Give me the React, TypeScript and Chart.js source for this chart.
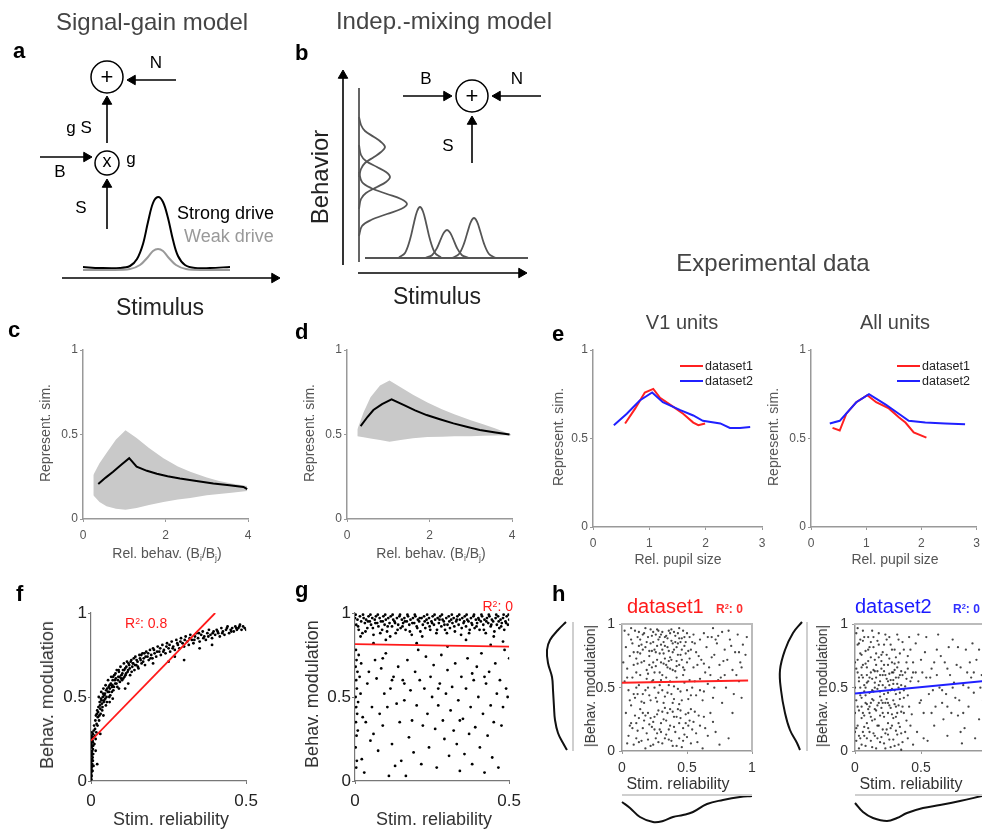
import React, { useEffect, useRef } from "react";
import { Chart, registerables } from "chart.js";

Chart.register(...registerables);
const FONT = "'Liberation Sans', Arial, Helvetica, sans-serif";
Chart.defaults.font.family = FONT;

// ================= DATA =================
// --- diagram a (page pixel coordinates) ---
const strongDriveX = [83, 100, 120, 130, 137, 143, 148, 153, 158, 163, 168, 173, 178, 185, 195, 210, 230];
const strongDriveY = [267, 268, 268, 266, 259, 244, 222, 203, 197, 202, 218, 240, 256, 265, 268, 268, 267];
const weakDriveX = [83, 110, 130, 140, 148, 153, 158, 163, 168, 176, 186, 205, 230];
const weakDriveY = [270, 270, 269, 265, 257, 251, 249, 251, 257, 265, 269, 270, 270];
const arrowsA = [
  [62, 278, 280, 278],
  [176, 80, 127, 80],
  [107, 143, 107, 96],
  [40, 157, 92, 157],
  [107, 229, 107, 179],
];
const circlesA = [
  [107, 77, 16],
  [107, 163, 12],
];
// --- diagram b ---
const arrowsB = [
  [343, 265, 343, 70],
  [358, 273, 527, 273],
  [403, 96, 452, 96],
  [541, 96, 492, 96],
  [472, 163, 472, 116],
];
const circlesB = [[472, 96, 16]];
const behaviorBaseX = [359, 359];
const behaviorBaseY = [88, 262];
const vBump1X = [359, 361, 365, 374, 381, 385, 381, 374, 365, 361, 359];
const vBump1Y = [117, 125, 131, 137, 142, 147, 152, 157, 163, 169, 177];
const vBump2X = [359, 361, 366, 377, 386, 390, 386, 377, 366, 361, 359];
const vBump2Y = [145, 155, 161, 167, 172, 177, 182, 187, 193, 199, 209];
const vBump3X = [359, 362, 371, 387, 401, 407, 401, 387, 371, 362, 359];
const vBump3Y = [172, 182, 188, 194, 199, 204, 209, 214, 220, 226, 236];
const stimBaseX = [365, 528];
const stimBaseY = [258, 258];
const hBump1X = [399, 405, 410, 414, 417, 420, 423, 426, 430, 435, 441];
const hBump1Y = [257.4, 253, 239.6, 222.7, 211.5, 207, 211.5, 222.7, 239.6, 253, 257.4];
const hBump2X = [426, 432, 437, 441, 444, 447, 450, 453, 457, 462, 468];
const hBump2Y = [257.7, 255.2, 248, 238.6, 232.5, 230, 232.5, 238.6, 248, 255.2, 257.7];
const hBump3X = [453, 459, 464, 468, 471, 474, 477, 480, 484, 489, 495];
const hBump3Y = [257.6, 254, 243.6, 230.4, 221.6, 218, 221.6, 230.4, 243.6, 254, 257.6];

// --- panel c (signal-gain simulation) ---
const envX = [0.25, 0.4, 0.57, 0.8, 1.03, 1.3, 1.6, 1.95, 2.3, 2.6, 3.0, 3.3, 3.6, 3.98];
const cUpper = [0.26, 0.33, 0.39, 0.47, 0.525, 0.48, 0.42, 0.36, 0.31, 0.28, 0.245, 0.225, 0.21, 0.195];
const cLower = [0.14, 0.1, 0.075, 0.06, 0.055, 0.065, 0.083, 0.1, 0.115, 0.125, 0.14, 0.148, 0.155, 0.165];
const cMeanX = [0.37, 0.55, 0.73, 0.92, 1.12, 1.3, 1.55, 1.79, 2.05, 2.35, 2.75, 3.16, 3.55, 3.89, 3.98];
const cMeanY = [0.207, 0.245, 0.28, 0.32, 0.36, 0.31, 0.285, 0.268, 0.253, 0.24, 0.225, 0.21, 0.2, 0.19, 0.177];
// --- panel d (indep.-mixing simulation) ---
const dUpper = [0.53, 0.63, 0.72, 0.79, 0.82, 0.78, 0.735, 0.69, 0.65, 0.62, 0.585, 0.56, 0.535, 0.5];
const dLower = [0.49, 0.483, 0.477, 0.468, 0.457, 0.468, 0.478, 0.485, 0.487, 0.49, 0.49, 0.492, 0.494, 0.496];
const dMeanX = [0.33, 0.5, 0.64, 0.85, 1.08, 1.37, 1.65, 1.93, 2.25, 2.58, 2.9, 3.22, 3.6, 3.94];
const dMeanY = [0.55, 0.605, 0.645, 0.68, 0.708, 0.675, 0.643, 0.615, 0.59, 0.566, 0.546, 0.527, 0.512, 0.5];
const simXTicks = [0, 2, 4];
const unitYTicks = [0, 0.5, 1];

// --- panel e (experimental data) ---
const eV1RedX = [0.57, 0.75, 0.92, 1.07, 1.19, 1.42, 1.6, 1.78, 1.87, 1.99];
const eV1RedY = [0.585, 0.67, 0.76, 0.78, 0.73, 0.68, 0.64, 0.59, 0.575, 0.585];
const eV1BlueX = [0.37, 0.6, 0.83, 1.05, 1.24, 1.55, 1.78, 1.95, 2.26, 2.43, 2.61, 2.79];
const eV1BlueY = [0.575, 0.64, 0.715, 0.76, 0.705, 0.66, 0.63, 0.6, 0.585, 0.56, 0.56, 0.565];
const eAllRedX = [0.39, 0.52, 0.64, 0.82, 1.02, 1.18, 1.41, 1.59, 1.71, 1.86, 2.09];
const eAllRedY = [0.56, 0.545, 0.64, 0.705, 0.745, 0.705, 0.67, 0.62, 0.59, 0.535, 0.505];
const eAllBlueX = [0.34, 0.52, 0.82, 1.05, 1.36, 1.59, 1.77, 2.07, 2.43, 2.79];
const eAllBlueY = [0.585, 0.6, 0.705, 0.75, 0.69, 0.64, 0.6, 0.59, 0.585, 0.58];
const pupilXTicks = [0, 1, 2, 3];

// --- panel f (signal-gain: modulation vs reliability) ---
const fPoints = [
  [0, .02], [.001, .05], [.002, .08], [0, .11], [.003, .13], [.001, .16], [.004, .18], [.002, .2], [0, .22], [.005, .24], [.003, .26], [.006, .28],
  [.001, .07], [.004, .1], [.002, .15], [.006, .19], [.003, .23], [0, .04], [.005, .14], [.007, .21], [.008, .26], [.009, .3], [.01, .33], [.006, .12],
  [.011, .22], [.012, .27], [.014, .36], [.013, .31], [.015, .25], [.016, .39], [.018, .34], [.02, .42], [.017, .29], [.022, .38], [.024, .44], [.019, .4],
  [.026, .36], [.028, .47], [.03, .43], [.025, .5], [.032, .49], [.035, .46], [.033, .53], [.038, .5], [.04, .55], [.036, .42], [.042, .48], [.045, .52],
  [.047, .57], [.05, .5], [.052, .55], [.048, .45], [.055, .6], [.058, .53], [.06, .57], [.062, .51], [.065, .62], [.068, .56], [.07, .6], [.072, .54],
  [.075, .63], [.078, .58], [.08, .61], [.083, .66], [.085, .56], [.088, .62], [.09, .65], [.093, .59], [.095, .68], [.098, .63], [.1, .6], [.103, .66],
  [.106, .7], [.108, .62], [.11, .67], [.113, .64], [.116, .71], [.12, .66], [.123, .69], [.126, .63], [.13, .72], [.133, .68], [.136, .7], [.14, .66],
  [.143, .74], [.146, .69], [.15, .71], [.153, .67], [.156, .75], [.16, .72], [.163, .7], [.166, .76], [.17, .73], [.174, .69], [.178, .77], [.182, .74],
  [.186, .72], [.19, .78], [.194, .75], [.198, .73], [.2, .79], [.205, .76], [.21, .74], [.215, .8], [.22, .77], [.225, .75], [.23, .81], [.235, .78],
  [.24, .76], [.245, .82], [.25, .79], [.255, .77], [.26, .83], [.265, .8], [.27, .78], [.275, .84], [.28, .81], [.285, .79], [.29, .85], [.295, .82],
  [.3, .8], [.305, .86], [.31, .83], [.315, .81], [.32, .87], [.325, .84], [.33, .82], [.335, .86], [.34, .88], [.345, .85], [.35, .83], [.355, .87],
  [.36, .89], [.365, .86], [.37, .84], [.375, .88], [.38, .9], [.385, .87], [.39, .85], [.395, .89], [.4, .87], [.405, .9], [.41, .88], [.415, .86],
  [.42, .91], [.425, .89], [.43, .87], [.435, .9], [.44, .92], [.445, .88], [.45, .9], [.455, .91], [.46, .89], [.465, .92], [.47, .9], [.475, .91],
  [.48, .93], [.485, .9], [.49, .92], [.495, .91], [.5, .9], [.39, .81], [.35, .79], [.12, .58], [.2, .7], [.27, .74], [.09, .55], [.06, .47],
  [.04, .39], [.015, .18], [.008, .09], [.021, .33], [.023, .41], [.027, .39], [.029, .45], [.031, .4], [.034, .48], [.037, .44], [.039, .52], [.041, .47],
  [.043, .51], [.046, .49], [.049, .54], [.051, .47], [.054, .53], [.057, .56], [.059, .5], [.061, .55], [.064, .58], [.067, .53], [.069, .57], [.071, .62],
  [.074, .56], [.077, .6], [.079, .64], [.082, .58], [.087, .6], [.089, .66], [.092, .62], [.097, .61], [.101, .64], [.104, .61], [.107, .66], [.111, .63],
  [.114, .68], [.118, .65], [.121, .7], [.125, .67], [.128, .71], [.131, .65], [.135, .7], [.138, .73], [.142, .69], [.147, .72], [.151, .68], [.158, .73],
  [.162, .75], [.168, .71], [.172, .76], [.176, .74], [.184, .76], [.192, .73], [.203, .78], [.213, .77], [.223, .79], [.233, .77], [.243, .8], [.253, .81],
  [.263, .79], [.278, .82], [.288, .83], [.302, .84], [.318, .85], [.333, .84], [.348, .88], [.362, .85], [.378, .86], [.392, .88], [.408, .89], [.423, .88],
  [.438, .91], [.452, .89], [.468, .91], [.478, .92], [.001, .01], [.002, .03], [0, .06], [.003, .09], [.001, .12], [.002, .17], [.004, .21], [.001, .25],
  [.003, .29], [.005, .06], [.002, .27], [.006, .23], [.007, .16], [.3, .72], [.25, .71], [.11, .55], [.07, .49], [.03, .28], [.02, .1],
];
const fFitX = [0, 0.4];
const fFitY = [0.24, 1.0];
const relXTicks = [0, 0.5];

// --- panel g (indep.-mixing: modulation vs reliability) ---
const gBandPoints = [
  [0, .97], [.004, .93], [.008, .96], [.012, .9], [.016, .98], [.02, .95], [.024, .88], [.028, .97], [.032, .94], [.036, .96], [.04, .91], [.044, .98],
  [.048, .95], [.052, .93], [.056, .97], [.06, .87], [.064, .96], [.068, .98], [.072, .94], [.076, .92], [.08, .97], [.084, .95], [.088, .9], [.092, .98],
  [.096, .93], [.1, .96], [.104, .89], [.108, .97], [.112, .94], [.116, .98], [.12, .92], [.124, .96], [.128, .95], [.132, .88], [.136, .97], [.14, .93],
  [.144, .98], [.148, .91], [.152, .96], [.156, .94], [.16, .97], [.164, .9], [.168, .95], [.172, .98], [.176, .93], [.18, .96], [.184, .87], [.188, .97],
  [.192, .94], [.196, .98], [.2, .92], [.204, .96], [.208, .95], [.212, .89], [.216, .97], [.22, .93], [.224, .98], [.228, .91], [.232, .96], [.236, .94],
  [.24, .97], [.244, .9], [.248, .95], [.252, .98], [.256, .93], [.26, .96], [.264, .88], [.268, .97], [.272, .94], [.276, .98], [.28, .92], [.284, .96],
  [.288, .95], [.292, .9], [.296, .97], [.3, .93], [.304, .98], [.308, .91], [.312, .96], [.316, .94], [.32, .97], [.324, .89], [.328, .95], [.332, .98],
  [.336, .93], [.34, .96], [.344, .87], [.348, .97], [.352, .94], [.356, .98], [.36, .92], [.364, .96], [.368, .95], [.372, .9], [.376, .97], [.38, .93],
  [.384, .98], [.388, .91], [.392, .96], [.396, .94], [.4, .97], [.404, .9], [.408, .95], [.412, .98], [.416, .93], [.42, .96], [.424, .88], [.428, .97],
  [.432, .94], [.436, .98], [.44, .92], [.444, .96], [.448, .95], [.452, .89], [.456, .97], [.46, .93], [.464, .98], [.468, .91], [.472, .96], [.476, .94],
  [.48, .97], [.484, .9], [.488, .95], [.492, .98], [.496, .93], [.5, .96],
  [.002, .99], [.01, .92], [.018, .86], [.026, .99], [.034, .89], [.042, .95], [.05, .99], [.058, .91], [.066, .94], [.074, .99], [.082, .88], [.09, .95],
  [.098, .99], [.106, .92], [.114, .86], [.122, .99], [.13, .94], [.138, .9], [.146, .99], [.154, .92], [.162, .95], [.17, .99], [.178, .89], [.186, .94],
  [.194, .99], [.202, .91], [.21, .97], [.218, .86], [.226, .95], [.234, .99], [.242, .92], [.25, .94], [.258, .99], [.266, .9], [.274, .96], [.282, .99],
  [.29, .93], [.298, .88], [.306, .95], [.314, .99], [.322, .92], [.33, .96], [.338, .99], [.346, .91], [.354, .95], [.362, .99], [.37, .88], [.378, .94],
  [.386, .99], [.394, .92], [.402, .96], [.41, .99], [.418, .9], [.426, .95], [.434, .99], [.442, .93], [.45, .86], [.458, .99], [.466, .95], [.474, .92],
  [.482, .99], [.49, .94], [.498, .99],
];
const gSparsePoints = [
  [.003, .78], [.005, .72], [.002, .68], [.008, .65], [.004, .6], [.006, .55], [.002, .5], [.01, .47], [.004, .44], [.007, .4], [.003, .35], [.009, .3],
  [.005, .27], [.002, .2], [.006, .12], [.004, .08], [.012, .75], [.015, .62], [.02, .7], [.018, .52], [.025, .38], [.022, .13], [.03, .05], [.035, .35],
  [.04, .58], [.045, .65], [.05, .24], [.055, .44], [.06, .28], [.065, .72], [.07, .61], [.075, .18], [.08, .4], [.085, .67], [.09, .33], [.095, .52],
  [.1, .76], [.105, .44], [.11, .03], [.115, .55], [.12, .22], [.125, .62], [.13, .09], [.135, .46], [.14, .68], [.145, .35], [.15, .12], [.155, .6],
  [.16, .48], [.165, .03], [.17, .72], [.175, .26], [.18, .54], [.185, .36], [.19, .17], [.195, .65], [.2, .45], [.205, .78], [.21, .6], [.215, .1],
  [.22, .33], [.225, .55], [.23, .74], [.235, .4], [.24, .2], [.245, .62], [.25, .5], [.255, .69], [.26, .31], [.265, .08], [.27, .45], [.275, .58],
  [.28, .75], [.285, .36], [.29, .25], [.295, .52], [.3, .66], [.305, .15], [.31, .42], [.315, .56], [.32, .3], [.325, .7], [.33, .22], [.335, .48],
  [.34, .06], [.345, .62], [.35, .37], [.355, .16], [.36, .55], [.365, .73], [.37, .28], [.375, .44], [.38, .1], [.385, .6], [.39, .32], [.395, .68],
  [.4, .5], [.405, .2], [.41, .76], [.415, .4], [.42, .05], [.425, .58], [.43, .27], [.435, .65], [.44, .45], [.445, .14], [.45, .35], [.455, .7],
  [.46, .52], [.465, .08], [.47, .6], [.475, .33], [.48, .44], [.485, .78], [.49, .55], [.495, .5], [.5, .73], [.42, .62], [.38, .64], [.34, .36],
  [.27, .55], [.16, .58], [.12, .6], [.09, .73], [.06, .82], [.2, .82], [.3, .8], [.44, .81], [.48, .83], [.36, .84], [.1, .84],
];
const gFitX = [0, 0.5];
const gFitY = [0.815, 0.8];

// --- panel h (experimental: |modulation| vs reliability) ---
const h1Points = [
  [.05, .92], [.08, .85], [.1, .95], [.12, .78], [.14, .88], [.15, .7], [.17, .93], [.18, .82], [.2, .9], [.21, .75], [.22, .96], [.23, .66], [.24, .86],
  [.25, .8], [.26, .92], [.27, .72], [.28, .88], [.29, .62], [.3, .84], [.31, .94], [.32, .77], [.33, .9], [.34, .68], [.35, .82], [.36, .95], [.37, .74],
  [.38, .87], [.39, .64], [.4, .8], [.41, .91], [.42, .71], [.43, .85], [.44, .97], [.45, .76], [.46, .89], [.47, .66], [.48, .83], [.5, .93], [.52, .73],
  [.54, .86], [.06, .75], [.09, .68], [.11, .62], [.13, .94], [.16, .8], [.19, .64], [.22, .85], [.24, .7], [.26, .78], [.28, .95], [.3, .7], [.32, .86],
  [.34, .91], [.36, .79], [.38, .72], [.4, .94], [.42, .82], [.44, .68], [.46, .8], [.48, .9], [.5, .7], [.53, .8], [.55, .92], [.03, .82], [.04, .65],
  [.07, .97], [.18, .97], [.27, .83], [.33, .73], [.37, .93], [.43, .76], [.47, .95], [.21, .68], [.31, .8], [.39, .85], [.15, .84], [.25, .62], [.35, .66],
  [.29, .9], [.23, .79], [.41, .63], [.45, .86], [.49, .77], [.12, .9], [.02, .95], [.01, .7], [.57, .78], [.6, .88], [.58, .68],
  [.02, .55], [.05, .48], [.08, .58], [.1, .42], [.13, .52], [.16, .45], [.19, .57], [.22, .4], [.25, .5], [.28, .46], [.3, .56], [.33, .43], [.36, .52],
  [.39, .38], [.42, .58], [.45, .47], [.48, .54], [.51, .41], [.54, .5], [.57, .44], [.6, .57], [.63, .47], [.66, .53], [.7, .42], [.74, .56], [.07, .36],
  [.11, .5], [.17, .38], [.24, .56], [.31, .48], [.34, .58], [.38, .45], [.44, .37], [.47, .6], [.52, .56], [.27, .39], [.2, .5], [.14, .6], [.4, .51],
  [.62, .4], [.68, .6], [.8, .5], [.86, .45], [.9, .55], [.77, .38],
  [.03, .3], [.05, .12], [.07, .22], [.09, .05], [.1, .28], [.12, .16], [.14, .33], [.15, .08], [.17, .24], [.19, .14], [.2, .3], [.22, .04], [.23, .19],
  [.25, .27], [.26, .1], [.28, .32], [.29, .17], [.31, .06], [.32, .25], [.34, .13], [.35, .3], [.37, .2], [.38, .08], [.4, .27], [.41, .15], [.43, .33],
  [.44, .22], [.46, .03], [.47, .18], [.49, .29], [.5, .11], [.52, .24], [.54, .17], [.56, .31], [.58, .07], [.6, .2], [.63, .27], [.66, .12], [.7, .23],
  [.75, .05], [.08, .18], [.13, .26], [.18, .02], [.21, .21], [.27, .14], [.33, .34], [.36, .09], [.42, .04], [.48, .13], [.53, .33], [.11, .1], [.16, .3],
  [.24, .23], [.3, .15], [.39, .31], [.45, .26], [.51, .2], [.62, .02], [.82, .1], [.72, .15],
  [.61, .72], [.63, .93], [.65, .82], [.67, .66], [.69, .9], [.71, .76], [.73, .85], [.75, .68], [.77, .94], [.79, .8], [.81, .72], [.83, .88], [.85, .64],
  [.87, .78], [.89, .92], [.91, .7], [.93, .84], [.95, .76], [.64, .62], [.7, .97], [.76, .58], [.82, .95], [.88, .6], [.92, .66], [.74, .91],
  [.11, .73], [.13, .83], [.16, .92], [.19, .86], [.21, .79], [.23, .91], [.26, .67], [.27, .96], [.29, .77], [.3, .92], [.32, .69], [.33, .83], [.35, .89],
  [.36, .71], [.38, .96], [.39, .78], [.41, .86], [.42, .67], [.44, .89], [.46, .72], [.48, .64], [.49, .86], [.51, .79], [.52, .9], [.55, .66], [.56, .85],
  [.59, .75], [.2, .61], [.17, .71], [.14, .77], [.24, .94], [.31, .6], [.37, .65], [.43, .93], [.07, .88], [.09, .78], [.12, .69],
  [.12, .45], [.15, .39], [.18, .48], [.21, .44], [.23, .55], [.26, .42], [.29, .52], [.32, .38], [.35, .46], [.37, .55], [.4, .41], [.43, .49], [.46, .4],
  [.5, .48], [.53, .44], [.56, .55], [.09, .45], [.06, .4], [.04, .58], [.6, .48],
  [.11, .22], [.13, .07], [.16, .18], [.18, .28], [.2, .09], [.22, .26], [.24, .05], [.25, .17], [.27, .29], [.28, .07], [.3, .22], [.31, .31], [.33, .1],
  [.34, .24], [.36, .17], [.37, .33], [.39, .04], [.4, .19], [.42, .27], [.44, .1], [.45, .32], [.47, .08], [.49, .22], [.51, .3], [.53, .06], [.55, .23],
  [.57, .14], [.59, .28], [.64, .18], [.68, .3], [.06, .2], [.04, .06],
  [.63, .69], [.66, .9], [.69, .74], [.72, .88], [.78, .71], [.84, .83], [.9, .78], [.96, .9], [.71, .5], [.79, .6], [.85, .3], [.92, .42],
];
const h1FitX = [0, 0.97];
const h1FitY = [0.54, 0.557];
const h2Points = [
  [.01, .93], [.03, .85], [.05, .76], [.07, .9], [.09, .66], [.11, .82], [.13, .95], [.15, .72], [.17, .87], [.19, .6], [.21, .78], [.23, .92], [.25, .68],
  [.27, .84], [.29, .56], [.31, .74], [.33, .88], [.35, .63], [.37, .8], [.39, .7], [.41, .9], [.43, .58],
  [.02, .62], [.04, .5], [.06, .58], [.08, .44], [.1, .55], [.12, .62], [.14, .47], [.16, .58], [.18, .52], [.2, .65], [.22, .45], [.24, .57], [.26, .61],
  [.28, .49], [.3, .64], [.32, .53], [.34, .46], [.36, .6], [.38, .51], [.4, .44], [.42, .55], [.44, .62],
  [.01, .4], [.03, .32], [.05, .42], [.07, .28], [.09, .37], [.11, .3], [.13, .41], [.15, .25], [.17, .36], [.19, .43], [.21, .3], [.23, .38], [.25, .22],
  [.27, .34], [.29, .4], [.31, .27], [.33, .36], [.35, .31], [.37, .42], [.39, .24], [.41, .35], [.43, .29],
  [.02, .2], [.04, .1], [.06, .15], [.08, .04], [.1, .18], [.12, .08], [.14, .14], [.16, .02], [.18, .2], [.2, .11], [.22, .06], [.24, .17], [.26, .09],
  [.28, .2], [.3, .04], [.32, .13], [.34, .19], [.36, .07], [.38, .15], [.4, .1], [.42, .2], [.44, .05],
  [.02, .72], [.04, .88], [.06, .68], [.08, .79], [.1, .71], [.12, .86], [.14, .64], [.16, .77], [.18, .93], [.2, .71], [.22, .84], [.24, .76], [.26, .9],
  [.28, .7], [.3, .8], [.32, .66], [.34, .77], [.36, .86], [.38, .62], [.4, .75], [.42, .8], [.44, .7],
  [.03, .58], [.05, .66], [.07, .52], [.09, .6], [.11, .46], [.13, .57], [.15, .63], [.17, .49], [.19, .55], [.21, .6], [.23, .5], [.25, .46], [.27, .56],
  [.29, .62], [.31, .45], [.33, .58], [.35, .52], [.37, .48], [.39, .57],
  [.01, .08], [.03, .02], [.05, .26], [.07, .12], [.09, .22], [.11, .35], [.13, .24], [.15, .33], [.17, .1], [.19, .28], [.21, .38], [.23, .14], [.25, .3],
  [.27, .03], [.29, .26], [.31, .35], [.33, .22], [.35, .01], [.37, .3],
  [0, .5], [0, .3], [0, .7], [0, .15], [.02, .97], [.06, .95], [.1, .9], [.14, .82], [.18, .74], [.22, .68], [.26, .52], [.3, .48], [.2, .4], [.15, .5],
  [.25, .38], [.28, .62], [.12, .38], [.08, .5], [.05, .35], [.33, .7], [.36, .35], [.4, .65],
  [.46, .85], [.48, .55], [.5, .72], [.52, .3], [.54, .9], [.56, .45], [.58, .65], [.6, .2], [.62, .8], [.64, .5], [.66, .38], [.68, .7], [.7, .12],
  [.72, .6], [.74, .88], [.76, .42], [.78, .28], [.8, .66], [.82, .52], [.84, .8], [.86, .35], [.88, .58], [.9, .46], [.92, .72], [.94, .25], [.96, .6],
  [.47, .15], [.51, .62], [.55, .08], [.59, .48], [.63, .92], [.67, .25], [.71, .82], [.75, .54], [.79, .4], [.83, .18], [.87, .7], [.91, .1], [.95, .5],
  [.49, .38], [.53, .78], [.57, .58], [.61, .35], [.65, .75], [.69, .45], [.73, .3], [.77, .68], [.81, .06], [.85, .62], [.89, .85], [.97, .4],
  [.02, .84], [.04, .77], [.06, .87], [.08, .69], [.1, .8], [.12, .74], [.14, .9], [.16, .68], [.18, .84], [.2, .76], [.22, .63], [.24, .88], [.26, .73],
  [.28, .8], [.3, .69], [.32, .92], [.34, .6], [.01, .65], [.03, .55], [.05, .6], [.07, .47], [.09, .54], [.11, .58], [.13, .48], [.15, .54], [.17, .63],
  [.19, .47], [.21, .52], [.23, .6], [.25, .55], [.27, .48], [.29, .53], [.31, .58], [.33, .5],
  [.02, .35], [.04, .44], [.06, .3], [.08, .38], [.1, .33], [.12, .27], [.14, .4], [.16, .32], [.18, .38], [.2, .34], [.22, .27], [.24, .41], [.26, .36],
  [.28, .29], [.3, .37], [.32, .3], [.34, .41],
  [.01, .18], [.03, .12], [.05, .05], [.07, .19], [.09, .1], [.11, .15], [.13, .03], [.15, .12], [.17, .2], [.19, .07], [.21, .17], [.23, .02], [.25, .13],
  [.27, .18], [.29, .09], [.31, .16], [.33, .05], [.35, .14],
  [.46, .62], [.5, .4], [.54, .58], [.58, .3], [.62, .6], [.66, .48], [.7, .65], [.74, .5], [.78, .82], [.82, .3], [.86, .5], [.9, .62], [.94, .8],
  [.98, .55], [.48, .92], [.52, .1], [.6, .7], [.7, .35], [.8, .15],
];
const h2FitX = [0, 1];
const h2FitY = [0.455, 0.555];
const unitXTicks = [0, 0.5, 1];
// marginal density curves of panel h (page pixel coordinates)
const h1LeftMargX = [566, 558, 550, 547, 548, 552, 553, 554, 555, 558, 563, 567];
const h1LeftMargY = [622, 630, 640, 650, 663, 677, 690, 707, 720, 733, 743, 750];
const h2LeftMargX = [802, 793, 785, 780, 781, 785, 790, 797, 800];
const h2LeftMargY = [622, 633, 650, 670, 690, 713, 730, 743, 750];
const h1BottomMargX = [622, 630, 640, 653, 663, 673, 683, 693, 707, 723, 740, 752];
const h1BottomMargY = [802, 808, 817, 822, 821, 817, 815, 812, 804, 800, 797, 796];
const h2BottomMargX = [855, 863, 873, 887, 897, 907, 923, 940, 960, 982];
const h2BottomMargY = [803, 812, 818, 821, 818, 813, 808, 805, 801, 796];
const marginGuides = [
  [573, 622, 573, 751],
  [807, 622, 807, 751],
  [622, 795, 752, 795],
  [855, 795, 990, 795],
];

// ================= HELPERS =================
const pts = (xs: number[], ys: number[]) => xs.map((x, i) => ({ x, y: ys[i] }));
const pairs = (a: number[][]) => a.map(([x, y]) => ({ x, y }));

const lineDS = (data: any[], color: string, width: number, tension = 0, order = 0) => ({
  data, borderColor: color, borderWidth: width, pointRadius: 0, tension, fill: false, order,
});

const arrowDS = (a: number[], color = "#000", width = 1.6, r = 5.5) => {
  const [x0, y0, x1, y1] = a;
  const len = Math.hypot(x1 - x0, y1 - y0);
  const ux = (x1 - x0) / len, uy = (y1 - y0) / len;
  const rot = (Math.atan2(ux, -uy) * 180) / Math.PI;
  return {
    data: [{ x: x0, y: y0 }, { x: x1 - ux * r, y: y1 - uy * r }],
    borderColor: color, borderWidth: width, pointRadius: [0, r], pointStyle: "triangle",
    pointRotation: rot, pointBackgroundColor: color, pointBorderColor: color, pointBorderWidth: 1, fill: false,
  };
};

const circleDS = (cs: number[][]) => ({
  data: cs.map((c) => ({ x: c[0], y: c[1] })), showLine: false, pointRadius: cs.map((c) => c[2]),
  pointStyle: "circle", pointBackgroundColor: "rgba(255,255,255,0)", pointBorderColor: "#000", pointBorderWidth: 1.5,
});

const scatterDS = (a: number[][], color: string, r: number) => ({
  data: pairs(a), showLine: false, pointRadius: r, pointBackgroundColor: color, pointBorderWidth: 0, pointStyle: "circle", order: 2,
});

interface PanelSpec {
  L: number; T: number; R: number; B: number;
  xMin: number; xMax: number; xTicks: number[];
  yMin: number; yMax: number; yTicks: number[];
  ySize: number; xSize: number; padTop: number; padRight: number;
  fontSize: number; tickColor: string; lineColor: string; lineWidth: number;
  xPad: number; yPad: number; tickLen: number;
  box?: { color: string; width: number };
}

function buildPanel(p: PanelSpec, datasets: any[]) {
  const left = p.L - p.ySize;
  const top = p.T - p.padTop;
  const width = p.R + p.padRight - left;
  const height = p.B + p.xSize - top;
  const axis = (min: number, max: number, ticks: number[], isX: boolean) => ({
    type: "linear",
    position: isX ? "bottom" : "left",
    min, max,
    afterBuildTicks: (s: any) => { s.ticks = ticks.map((v) => ({ value: v })); },
    afterFit: (s: any) => { if (isX) s.height = p.xSize; else s.width = p.ySize; },
    ticks: {
      font: { size: p.fontSize, family: FONT }, color: p.tickColor, padding: isX ? p.xPad : p.yPad,
      maxRotation: 0, autoSkip: false, callback: (v: any) => String(v),
    },
    grid: { display: true, drawOnChartArea: false, drawTicks: true, tickLength: p.tickLen, color: p.lineColor, lineWidth: 1 },
    border: { display: true, color: p.lineColor, width: p.lineWidth },
  });
  const scales: any = { x: axis(p.xMin, p.xMax, p.xTicks, true), y: axis(p.yMin, p.yMax, p.yTicks, false) };
  if (p.box) {
    scales.x2 = {
      type: "linear", position: "top", display: true, min: p.xMin, max: p.xMax,
      afterFit: (s: any) => { s.height = 0; },
      ticks: { display: false }, grid: { display: false },
      border: { display: true, color: p.box.color, width: p.box.width },
    };
    scales.y2 = {
      type: "linear", position: "right", display: true, min: p.yMin, max: p.yMax,
      afterFit: (s: any) => { s.width = 0; },
      ticks: { display: false }, grid: { display: false },
      border: { display: true, color: p.box.color, width: p.box.width },
    };
  }
  const config: any = {
    type: "line",
    data: { datasets },
    options: {
      animation: false, responsive: false, events: [],
      layout: { autoPadding: false, padding: { left: 0, top: p.padTop, right: p.padRight, bottom: 0 } },
      plugins: { legend: { display: false }, tooltip: { enabled: false } },
      scales,
    },
  };
  return { left, top, width, height, config };
}

function ChartCanvas({ left, top, width, height, config }: any) {
  const ref = useRef<HTMLCanvasElement>(null);
  useEffect(() => {
    const chart = new Chart(ref.current as HTMLCanvasElement, config);
    return () => chart.destroy();
  }, []);
  return (
    <canvas ref={ref} width={width} height={height}
      style={{ position: "absolute", left, top, width, height }} />
  );
}

function Label({ x, y, size, children, color = "#000", weight = 400, align = "left", rotate = false }: any) {
  const tx = rotate
    ? "translate(-50%,-50%) rotate(-90deg)"
    : align === "center" ? "translate(-50%,-50%)" : align === "right" ? "translate(-100%,-50%)" : "translate(0,-50%)";
  return (
    <div style={{
      position: "absolute", left: x, top: y, transform: tx, fontSize: size, lineHeight: `${size}px`,
      fontWeight: weight, color, whiteSpace: "nowrap", fontFamily: FONT,
    }}>{children}</div>
  );
}
const Sup = ({ children }: any) => (
  <sup style={{ fontSize: "0.62em", lineHeight: 0, verticalAlign: "0.5em" }}>{children}</sup>
);
const Sub = ({ children }: any) => (
  <sub style={{ fontSize: "0.62em", lineHeight: 0, verticalAlign: "-0.35em" }}>{children}</sub>
);
const LegendItem = ({ x, y, color, text }: any) => (
  <>
    <div style={{ position: "absolute", left: x, top: y - 1, width: 23, height: 2, background: color }} />
    <Label x={x + 25} y={y} size={12.5} color="#222">{text}</Label>
  </>
);

// ================= PANELS =================
const simStyle = {
  fontSize: 12, tickColor: "#555", lineColor: "#999", lineWidth: 1.5, xPad: 6, yPad: 2, tickLen: 3,
  ySize: 30, xSize: 28, padTop: 12, padRight: 12,
};
const scatStyle = {
  fontSize: 17, tickColor: "#222", lineColor: "#777", lineWidth: 1.2, xPad: 7, yPad: 1, tickLen: 3,
  ySize: 36, xSize: 30, padTop: 12, padRight: 16,
};
const hStyle = {
  fontSize: 14, tickColor: "#333", lineColor: "#999", lineWidth: 1.5, xPad: 6, yPad: 4, tickLen: 3,
  ySize: 30, xSize: 28, padTop: 10, padRight: 14, box: { color: "#bbb", width: 2 },
};

const envDatasets = (upper: number[], lower: number[], mx: number[], my: number[]) => [
  { data: pts(envX, upper), borderColor: "rgba(0,0,0,0)", borderWidth: 0, pointRadius: 0, fill: false, order: 3 },
  { data: pts(envX, lower), borderColor: "rgba(0,0,0,0)", borderWidth: 0, pointRadius: 0, fill: "-1", backgroundColor: "#c9c9c9", order: 2 },
  lineDS(pts(mx, my), "#000", 2, 0, 0),
];

const panelC = buildPanel({ ...simStyle, L: 83, T: 350, R: 248, B: 519, xMin: 0, xMax: 4, xTicks: simXTicks, yMin: 0, yMax: 1, yTicks: unitYTicks },
  envDatasets(cUpper, cLower, cMeanX, cMeanY));
const panelD = buildPanel({ ...simStyle, L: 347, T: 350, R: 512, B: 519, xMin: 0, xMax: 4, xTicks: simXTicks, yMin: 0, yMax: 1, yTicks: unitYTicks },
  envDatasets(dUpper, dLower, dMeanX, dMeanY));
const panelE1 = buildPanel({ ...simStyle, L: 593, T: 350, R: 762, B: 527, xMin: 0, xMax: 3, xTicks: pupilXTicks, yMin: 0, yMax: 1, yTicks: unitYTicks },
  [lineDS(pts(eV1RedX, eV1RedY), "#ff2020", 2, 0, 1), lineDS(pts(eV1BlueX, eV1BlueY), "#2020ff", 2, 0, 0)]);
const panelE2 = buildPanel({ ...simStyle, padRight: 8, L: 811, T: 350, R: 978, B: 527, xMin: 0, xMax: 3, xTicks: pupilXTicks, yMin: 0, yMax: 1, yTicks: unitYTicks },
  [lineDS(pts(eAllRedX, eAllRedY), "#ff2020", 2, 0, 1), lineDS(pts(eAllBlueX, eAllBlueY), "#2020ff", 2, 0, 0)]);
const panelF = buildPanel({ ...scatStyle, L: 91, T: 613, R: 249, B: 781, xMin: 0, xMax: 0.5, xTicks: relXTicks, yMin: 0, yMax: 1, yTicks: unitYTicks },
  [scatterDS(fPoints, "#000", 1.4), lineDS(pts(fFitX, fFitY), "#ff1a1a", 1.8, 0, 0)]);
const panelG = buildPanel({ ...scatStyle, L: 355, T: 613, R: 512, B: 781, xMin: 0, xMax: 0.5, xTicks: relXTicks, yMin: 0, yMax: 1, yTicks: unitYTicks },
  [scatterDS(gBandPoints, "#000", 1.4), scatterDS(gSparsePoints, "#000", 1.4), lineDS(pts(gFitX, gFitY), "#ff1a1a", 1.8, 0, 0)]);
const panelH1 = buildPanel({ ...hStyle, L: 622, T: 622, R: 752, B: 751, xMin: 0, xMax: 1, xTicks: unitXTicks, yMin: 0, yMax: 1, yTicks: unitYTicks },
  [scatterDS(h1Points, "rgba(0,0,0,0.72)", 1.15), lineDS(pts(h1FitX, h1FitY), "#ff2020", 2, 0, 0)]);
const panelH2 = buildPanel({ ...hStyle, L: 855, T: 622, R: 987, B: 751, xMin: 0, xMax: 1, xTicks: unitXTicks, yMin: 0, yMax: 1, yTicks: unitYTicks },
  [scatterDS(h2Points, "rgba(0,0,0,0.72)", 1.15), lineDS(pts(h2FitX, h2FitY), "#2020ff", 2, 0, 0)]);

// Diagram / decoration layer in page pixel coordinates
const overlayConfig: any = {
  type: "line",
  data: {
    datasets: [
      lineDS(pts(weakDriveX, weakDriveY), "#999", 2, 0.35),
      lineDS(pts(strongDriveX, strongDriveY), "#000", 2, 0.35),
      ...arrowsA.map((a) => arrowDS(a)),
      circleDS(circlesA),
      lineDS(pts(behaviorBaseX, behaviorBaseY), "#555", 1.8),
      lineDS(pts(vBump1X, vBump1Y), "#555", 1.8, 0.35),
      lineDS(pts(vBump2X, vBump2Y), "#555", 1.8, 0.35),
      lineDS(pts(vBump3X, vBump3Y), "#555", 1.8, 0.35),
      lineDS(pts(stimBaseX, stimBaseY), "#555", 1.8),
      lineDS(pts(hBump1X, hBump1Y), "#555", 1.8, 0.35),
      lineDS(pts(hBump2X, hBump2Y), "#555", 1.8, 0.35),
      lineDS(pts(hBump3X, hBump3Y), "#555", 1.8, 0.35),
      ...arrowsB.map((a) => arrowDS(a)),
      circleDS(circlesB),
      ...marginGuides.map((g) => lineDS([{ x: g[0], y: g[1] }, { x: g[2], y: g[3] }], "#cfcfcf", 2)),
      lineDS(pts(h1LeftMargX, h1LeftMargY), "#111", 2, 0.4),
      lineDS(pts(h2LeftMargX, h2LeftMargY), "#111", 2, 0.4),
      lineDS(pts(h1BottomMargX, h1BottomMargY), "#111", 2, 0.4),
      lineDS(pts(h2BottomMargX, h2BottomMargY), "#111", 2, 0.4),
    ],
  },
  options: {
    animation: false, responsive: false, events: [],
    layout: { autoPadding: false, padding: 0 },
    plugins: { legend: { display: false }, tooltip: { enabled: false } },
    scales: {
      x: { type: "linear", min: 0, max: 982, display: false },
      y: { type: "linear", min: 0, max: 832, reverse: true, display: false },
    },
  },
};

export default function App() {
  const panels = [panelC, panelD, panelE1, panelE2, panelF, panelG, panelH1, panelH2];
  return (
    <div style={{ position: "absolute", left: 0, top: 0, width: 982, height: 832, overflow: "hidden", background: "#fff", fontFamily: FONT }}>
      <ChartCanvas left={0} top={0} width={982} height={832} config={overlayConfig} />
      {panels.map((p, i) => <ChartCanvas key={i} {...p} />)}

      {/* titles */}
      <Label x={152} y={22} size={24} color="#444" align="center">Signal-gain model</Label>
      <Label x={444} y={21} size={24} color="#444" align="center">Indep.-mixing model</Label>
      <Label x={773} y={263} size={24} color="#444" align="center">Experimental data</Label>
      <Label x={682} y={322} size={20} color="#444" align="center">V1 units</Label>
      <Label x={895} y={322} size={20} color="#444" align="center">All units</Label>

      {/* panel letters */}
      <Label x={13} y={51} size={22} weight={700}>a</Label>
      <Label x={295} y={53} size={22} weight={700}>b</Label>
      <Label x={8} y={330} size={22} weight={700}>c</Label>
      <Label x={295} y={332} size={22} weight={700}>d</Label>
      <Label x={552} y={334} size={22} weight={700}>e</Label>
      <Label x={16} y={594} size={22} weight={700}>f</Label>
      <Label x={295} y={590} size={22} weight={700}>g</Label>
      <Label x={552} y={594} size={22} weight={700}>h</Label>

      {/* diagram a */}
      <Label x={107} y={77} size={22} align="center">+</Label>
      <Label x={107} y={161} size={18} align="center">x</Label>
      <Label x={156} y={62} size={17} align="center">N</Label>
      <Label x={79} y={127} size={17} align="center">g S</Label>
      <Label x={131} y={158} size={17} align="center">g</Label>
      <Label x={60} y={171} size={17} align="center">B</Label>
      <Label x={81} y={207} size={17} align="center">S</Label>
      <Label x={177} y={213} size={18}>Strong drive</Label>
      <Label x={184} y={236} size={18} color="#999">Weak drive</Label>
      <Label x={160} y={307} size={23} color="#222" align="center">Stimulus</Label>

      {/* diagram b */}
      <Label x={472} y={96} size={22} align="center">+</Label>
      <Label x={426} y={78} size={17} align="center">B</Label>
      <Label x={517} y={78} size={17} align="center">N</Label>
      <Label x={448} y={145} size={17} align="center">S</Label>
      <Label x={320} y={177} size={24} color="#222" rotate>Behavior</Label>
      <Label x={437} y={296} size={23} color="#222" align="center">Stimulus</Label>

      {/* c, d axis titles */}
      <Label x={45} y={433} size={14} color="#555" rotate>Represent. sim.</Label>
      <Label x={309} y={433} size={14} color="#555" rotate>Represent. sim.</Label>
      <Label x={167} y={553} size={14} color="#555" align="center">Rel. behav. (B<Sub>i</Sub>/B<Sub>j</Sub>)</Label>
      <Label x={431} y={553} size={14} color="#555" align="center">Rel. behav. (B<Sub>i</Sub>/B<Sub>j</Sub>)</Label>

      {/* e */}
      <Label x={558} y={437} size={14} color="#555" rotate>Represent. sim.</Label>
      <Label x={773} y={437} size={14} color="#555" rotate>Represent. sim.</Label>
      <Label x={678} y={559} size={14} color="#555" align="center">Rel. pupil size</Label>
      <Label x={895} y={559} size={14} color="#555" align="center">Rel. pupil size</Label>
      <LegendItem x={680} y={366} color="#ff2020" text="dataset1" />
      <LegendItem x={680} y={381} color="#2020ff" text="dataset2" />
      <LegendItem x={897} y={366} color="#ff2020" text="dataset1" />
      <LegendItem x={897} y={381} color="#2020ff" text="dataset2" />

      {/* f, g */}
      <Label x={47} y={695} size={18} color="#333" rotate>Behav. modulation</Label>
      <Label x={312} y={694} size={18} color="#333" rotate>Behav. modulation</Label>
      <Label x={171} y={819} size={18} color="#333" align="center">Stim. reliability</Label>
      <Label x={434} y={819} size={18} color="#333" align="center">Stim. reliability</Label>
      <Label x={125} y={623} size={14} color="#ff1a1a">R<Sup>2</Sup>: 0.8</Label>
      <Label x={513} y={606} size={14} color="#ff1a1a" align="right">R<Sup>2</Sup>: 0</Label>

      {/* h */}
      <Label x={627} y={606} size={20} color="#ff1a1a">dataset1</Label>
      <Label x={716} y={609} size={12} color="#ff3030" weight={700}>R<Sup>2</Sup>: 0</Label>
      <Label x={855} y={606} size={20} color="#1a1aff">dataset2</Label>
      <Label x={953} y={609} size={12} color="#3030ff" weight={700}>R<Sup>2</Sup>: 0</Label>
      <Label x={590} y={686} size={14} color="#333" rotate>|Behav. modulation|</Label>
      <Label x={822} y={686} size={14} color="#333" rotate>|Behav. modulation|</Label>
      <Label x={678} y={784} size={16} color="#333" align="center">Stim. reliability</Label>
      <Label x={911} y={784} size={16} color="#333" align="center">Stim. reliability</Label>
    </div>
  );
}
